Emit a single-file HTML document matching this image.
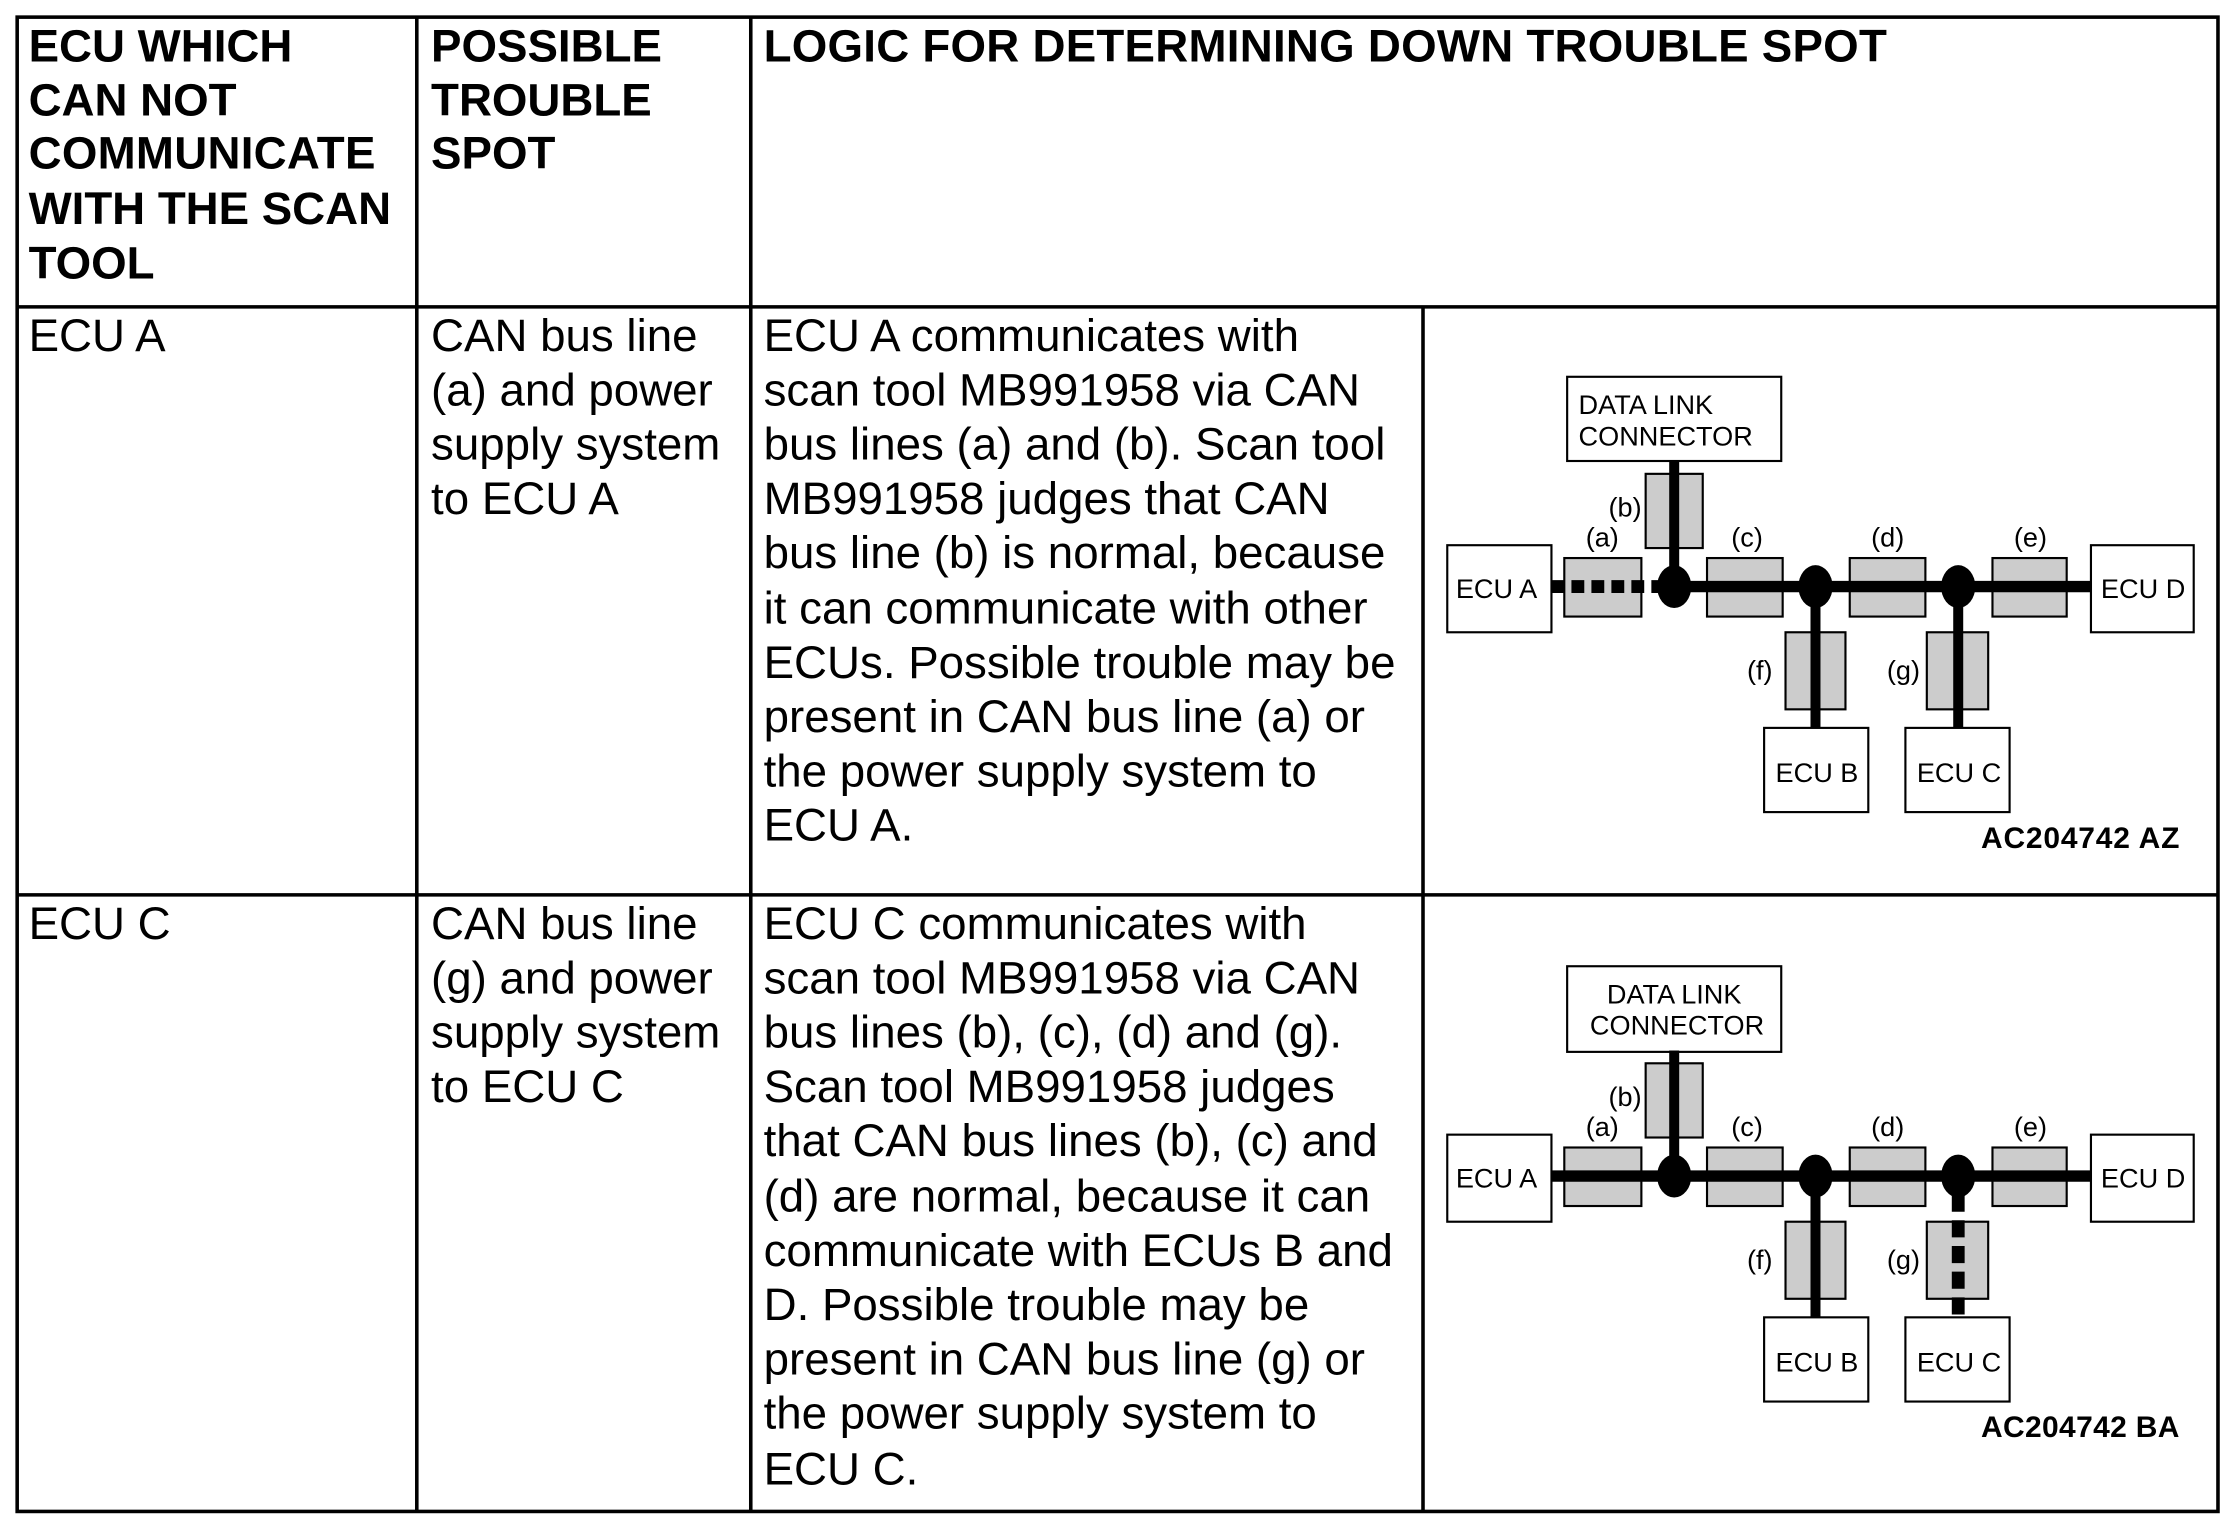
<!DOCTYPE html>
<html><head><meta charset="utf-8"><style>html,body{margin:0;padding:0;background:#fff}svg{display:block}</style></head>
<body>
<svg width="2238" height="1530" viewBox="0 0 1568 1072" xmlns="http://www.w3.org/2000/svg" font-family="Liberation Sans, Arial, sans-serif">
<rect width="1568" height="1072" fill="#fff"/>
<g stroke="#000" stroke-width="2.5" fill="none">
<rect x="12" y="12" width="1542" height="1047"/>
<line x1="292" y1="12" x2="292" y2="1059"/>
<line x1="526" y1="12" x2="526" y2="1059"/>
<line x1="997" y1="215" x2="997" y2="1059"/>
<line x1="12" y1="215" x2="1554" y2="215"/>
<line x1="12" y1="627" x2="1554" y2="627"/>
</g>
<g font-weight="bold" font-size="32" fill="#000">
<text x="20" y="43">ECU WHICH</text>
<text x="20" y="81">CAN NOT</text>
<text x="20" y="118" textLength="243">COMMUNICATE</text>
<text x="20" y="157" textLength="254">WITH THE SCAN</text>
<text x="20" y="195">TOOL</text>
<text x="302" y="43">POSSIBLE</text>
<text x="302" y="81">TROUBLE</text>
<text x="302" y="118">SPOT</text>
<text x="535" y="43" textLength="787">LOGIC FOR DETERMINING DOWN TROUBLE SPOT</text>
</g>
<g font-size="32" fill="#000">
<text x="20" y="246">ECU A</text>
<text x="302" y="246">CAN bus line</text>
<text x="302" y="284">(a) and power</text>
<text x="302" y="322">supply system</text>
<text x="302" y="360">to ECU A</text>
<text x="535" y="246">ECU A communicates with</text>
<text x="535" y="284">scan tool MB991958 via CAN</text>
<text x="535" y="322">bus lines (a) and (b). Scan tool</text>
<text x="535" y="360">MB991958 judges that CAN</text>
<text x="535" y="398">bus line (b) is normal, because</text>
<text x="535" y="437">it can communicate with other</text>
<text x="535" y="475">ECUs. Possible trouble may be</text>
<text x="535" y="513">present in CAN bus line (a) or</text>
<text x="535" y="551">the power supply system to</text>
<text x="535" y="589">ECU A.</text>
<text x="20" y="658">ECU C</text>
<text x="302" y="658">CAN bus line</text>
<text x="302" y="696">(g) and power</text>
<text x="302" y="734">supply system</text>
<text x="302" y="772">to ECU C</text>
<text x="535" y="658">ECU C communicates with</text>
<text x="535" y="696">scan tool MB991958 via CAN</text>
<text x="535" y="734">bus lines (b), (c), (d) and (g).</text>
<text x="535" y="772">Scan tool MB991958 judges</text>
<text x="535" y="810">that CAN bus lines (b), (c) and</text>
<text x="535" y="849">(d) are normal, because it can</text>
<text x="535" y="887">communicate with ECUs B and</text>
<text x="535" y="925">D. Possible trouble may be</text>
<text x="535" y="963">present in CAN bus line (g) or</text>
<text x="535" y="1001">the power supply system to</text>
<text x="535" y="1040">ECU C.</text>
</g>

<!-- Diagram 1 -->
<g>
<g stroke="#000" stroke-width="1.5">
<rect x="1098" y="264" width="150" height="59" fill="#fff"/>
<rect x="1014" y="382" width="73" height="61" fill="#fff"/>
<rect x="1465" y="382" width="72" height="61" fill="#fff"/>
<rect x="1236" y="510" width="73" height="59" fill="#fff"/>
<rect x="1335" y="510" width="73" height="59" fill="#fff"/>
<rect x="1096" y="391" width="54" height="41" fill="#ccc"/>
<rect x="1153" y="332" width="40" height="52" fill="#ccc"/>
<rect x="1196" y="391" width="53" height="41" fill="#ccc"/>
<rect x="1296" y="391" width="53" height="41" fill="#ccc"/>
<rect x="1396" y="391" width="52" height="41" fill="#ccc"/>
<rect x="1251" y="443" width="42" height="54" fill="#ccc"/>
<rect x="1350" y="443" width="43" height="54" fill="#ccc"/>
</g>
<line x1="1087" y1="411" x2="1173" y2="411" stroke="#000" stroke-width="9" stroke-dasharray="9 5"/>
<line x1="1173" y1="411" x2="1465" y2="411" stroke="#000" stroke-width="8"/>
<line x1="1173" y1="323" x2="1173" y2="411" stroke="#000" stroke-width="7"/>
<line x1="1272" y1="411" x2="1272" y2="510" stroke="#000" stroke-width="7"/>
<line x1="1372" y1="411" x2="1372" y2="510" stroke="#000" stroke-width="7"/>
<ellipse cx="1173" cy="411" rx="12" ry="15"/>
<ellipse cx="1272" cy="411" rx="12" ry="15"/>
<ellipse cx="1372" cy="411" rx="12" ry="15"/>
<g font-size="19" fill="#000">
<text x="1106" y="290">DATA LINK</text>
<text x="1106" y="312">CONNECTOR</text>
<text x="1020" y="419">ECU A</text>
<text x="1472" y="419">ECU D</text>
<text x="1244" y="548">ECU B</text>
<text x="1343" y="548">ECU C</text>
<text x="1111" y="383">(a)</text>
<text x="1127" y="362">(b)</text>
<text x="1213" y="383">(c)</text>
<text x="1311" y="383">(d)</text>
<text x="1411" y="383">(e)</text>
<text x="1224" y="476">(f)</text>
<text x="1322" y="476">(g)</text>
</g>
<text x="1527" y="594" font-size="21" font-weight="bold" text-anchor="end" textLength="139">AC204742 AZ</text>
</g>

<!-- Diagram 2 -->
<g transform="translate(0,413)">
<g stroke="#000" stroke-width="1.5">
<rect x="1098" y="264" width="150" height="60" fill="#fff"/>
<rect x="1014" y="382" width="73" height="61" fill="#fff"/>
<rect x="1465" y="382" width="72" height="61" fill="#fff"/>
<rect x="1236" y="510" width="73" height="59" fill="#fff"/>
<rect x="1335" y="510" width="73" height="59" fill="#fff"/>
<rect x="1096" y="391" width="54" height="41" fill="#ccc"/>
<rect x="1153" y="332" width="40" height="52" fill="#ccc"/>
<rect x="1196" y="391" width="53" height="41" fill="#ccc"/>
<rect x="1296" y="391" width="53" height="41" fill="#ccc"/>
<rect x="1396" y="391" width="52" height="41" fill="#ccc"/>
<rect x="1251" y="443" width="42" height="54" fill="#ccc"/>
<rect x="1350" y="443" width="43" height="54" fill="#ccc"/>
</g>
<line x1="1087" y1="411" x2="1465" y2="411" stroke="#000" stroke-width="8"/>
<line x1="1173" y1="323" x2="1173" y2="411" stroke="#000" stroke-width="7"/>
<line x1="1272" y1="411" x2="1272" y2="510" stroke="#000" stroke-width="7"/>
<line x1="1372" y1="424" x2="1372" y2="510" stroke="#000" stroke-width="9" stroke-dasharray="12 6"/>
<ellipse cx="1173" cy="411" rx="12" ry="15"/>
<ellipse cx="1272" cy="411" rx="12" ry="15"/>
<ellipse cx="1372" cy="411" rx="12" ry="15"/>
<g font-size="19" fill="#000">
<text x="1173" y="290" text-anchor="middle">DATA LINK</text>
<text x="1175" y="312" text-anchor="middle">CONNECTOR</text>
<text x="1020" y="419">ECU A</text>
<text x="1472" y="419">ECU D</text>
<text x="1244" y="548">ECU B</text>
<text x="1343" y="548">ECU C</text>
<text x="1111" y="383">(a)</text>
<text x="1127" y="362">(b)</text>
<text x="1213" y="383">(c)</text>
<text x="1311" y="383">(d)</text>
<text x="1411" y="383">(e)</text>
<text x="1224" y="476">(f)</text>
<text x="1322" y="476">(g)</text>
</g>
<text x="1527" y="594" font-size="21" font-weight="bold" text-anchor="end" textLength="139">AC204742 BA</text>
</g>
</svg>
</body></html>
